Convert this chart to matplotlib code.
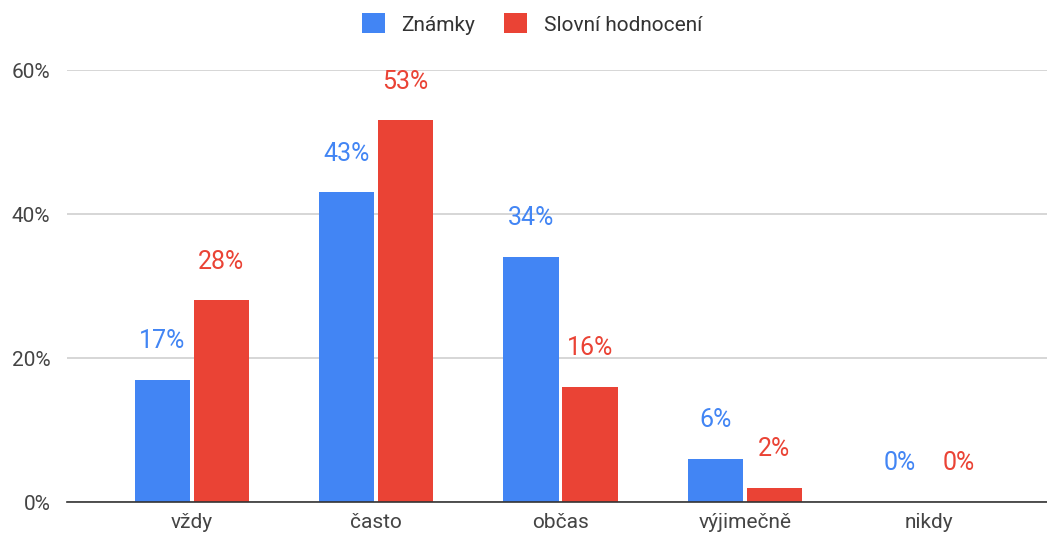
import matplotlib
matplotlib.use('Agg')
import matplotlib.pyplot as plt
import numpy as np

categories = ['vždy', 'často', 'občas', 'výjimečně', 'nikdy']
znamky = [17, 43, 34, 6, 0]
slovni = [28, 53, 16, 2, 0]
series_names = ['Známky', 'Slovní hodnocení']
y_ticks = [0, 20, 40, 60]

BLUE = '#4285F4'
RED = '#EA4335'

plt.rcParams['font.family'] = ['Roboto', 'DejaVu Sans']

fig = plt.figure(figsize=(10.47, 5.36), dpi=100)
ax = fig.add_axes([67 / 1047, 34 / 536, 1 - 67 / 1047, (502 - 70) / 536])

x = np.arange(len(categories))
width = 0.30
offset = 0.16

bars1 = ax.bar(x - offset, znamky, width, color=BLUE, label=series_names[0], zorder=3)
bars2 = ax.bar(x + offset, slovni, width, color=RED, label=series_names[1], zorder=3)

# value labels above the bars
for bars, values, color in ((bars1, znamky, BLUE), (bars2, slovni, RED)):
    for bar, val in zip(bars, values):
        ax.annotate('{0}%'.format(val), (bar.get_x() + bar.get_width() / 2, val),
                    xytext=(0, 28), textcoords='offset points',
                    ha='center', va='center', fontsize=18, color=color)

ax.set_xlim(-0.678, 4.64)
ax.set_ylim(0, 60)
ax.set_yticks(y_ticks)
ax.set_yticklabels(['{0}%'.format(t) for t in y_ticks])
ax.set_xticks(x)
ax.set_xticklabels(categories)
ax.tick_params(axis='both', length=0, labelsize=15, colors='#444444')
ax.tick_params(axis='y', pad=12)
ax.tick_params(axis='x', pad=8)
ax.grid(axis='y', color='#d0d0d0', linewidth=1.2, zorder=0)
for side in ('left', 'right', 'top'):
    ax.spines[side].set_visible(False)
ax.spines['bottom'].set_color('#333333')
ax.spines['bottom'].set_linewidth(1.2)
ax.spines['bottom'].set_zorder(4)

fig.legend(handles=[bars1, bars2], labels=series_names, loc='center',
           bbox_to_anchor=(532 / 1047, 1 - 24 / 536), ncol=2, frameon=False,
           fontsize=15, handlelength=1.1, handleheight=1.1, handletextpad=0.8,
           columnspacing=1.4, labelcolor='#333333')

fig.savefig('out.png', dpi=100)
